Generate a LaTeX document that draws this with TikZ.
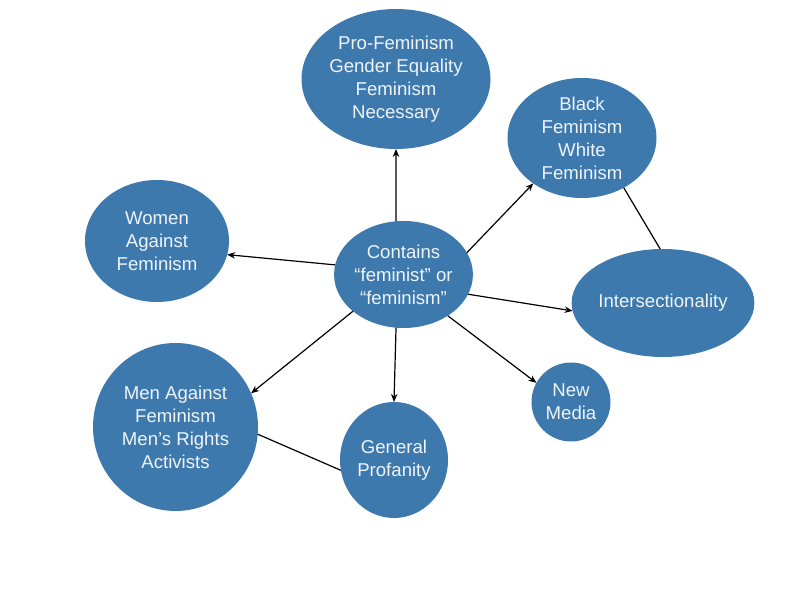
\documentclass[tikz,border=0pt]{standalone}
\usepackage{fontspec}
\setmainfont{Liberation Sans}
\usetikzlibrary{shapes.geometric,arrows.meta}
\definecolor{bubble}{HTML}{3E79AD}
\definecolor{bubtext}{HTML}{EEF4FA}
\begin{document}
\begin{tikzpicture}[x=1pt,y=1pt,
  bub/.style={ellipse,fill=bubble,draw=none,inner sep=0pt,outer sep=0pt,text=bubtext,align=center,font=\fontsize{18.6}{23}\selectfont},
  arr/.style={-{Stealth[length=8pt,width=6.5pt]},line width=1.2pt,black},
  lnk/.style={line width=1.2pt,black}]
\useasboundingbox (0,0) rectangle (809,607);
\node[bub,minimum width=189pt,minimum height=140pt] (top) at (396,528) {Pro-Feminism\\Gender Equality\\Feminism\\Necessary};
\node[bub,minimum width=149pt,minimum height=120pt] (black) at (582,469) {Black\\Feminism\\White\\Feminism};
\node[bub,minimum width=144pt,minimum height=122pt] (women) at (157,366) {Women\\Against\\Feminism};
\node[bub,minimum width=131pt,minimum height=107pt] (c) at (403.5,332.5) {Contains\\“feminist” or\\“feminism”};
\node[bub,minimum width=168pt,minimum height=108pt] (inter) at (663,304) {Intersectionality};
\node[bub,minimum width=79pt,minimum height=79pt] (nm) at (571,205) {New\\Media};
\node[bub,minimum width=108pt,minimum height=116pt] (gp) at (394,147) {General\\Profanity};
\node[bub,minimum width=165pt,minimum height=168pt] (men) at (175.5,180) {Men Against\\Feminism\\Men’s Rights\\Activists};
\draw[arr] (c.98) -- (top.270);
\draw[arr] (c.19.5) -- (black.223);
\draw[arr] (c.172) -- (women.349);
\draw[arr] (c.343) -- (inter.185.5);
\draw[arr] (c.317) -- (nm.151);
\draw[arr] (c.262) -- (gp.90);
\draw[arr] (c.216) -- (men.24);
\draw[lnk] (black.310) -- (inter.93);
\draw[lnk] (men.355.5) -- (gp.191);
\end{tikzpicture}
\end{document}
